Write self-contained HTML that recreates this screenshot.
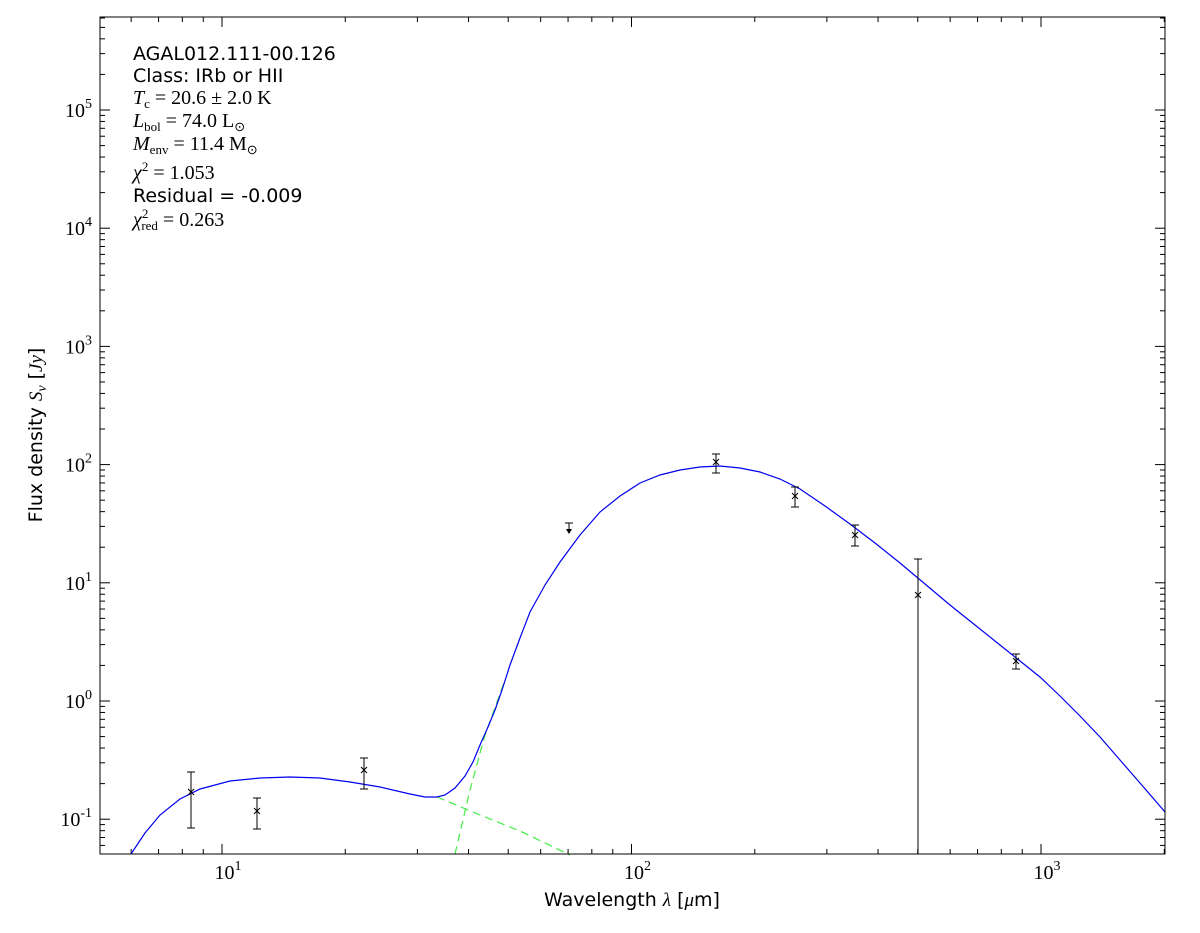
<!DOCTYPE html>
<html><head><meta charset="utf-8"><style>
body{margin:0;background:#fff;}
svg{display:block;font-family:"DejaVu Sans","Liberation Sans",sans-serif;}
.s{font-family:"Liberation Serif",serif;}
</style></head><body>
<svg id="c" width="1200" height="933" viewBox="0 0 1200 933" xmlns="http://www.w3.org/2000/svg">
<rect x="0" y="0" width="1200" height="933" fill="#fff"/>
<g id="ticks" stroke="#000" stroke-width="1"></g>
<polyline fill="none" stroke="#44ee44" stroke-width="1.2" stroke-dasharray="8,5" points="437,797 480,815 520,831 570,855"/>
<polyline fill="none" stroke="#44ee44" stroke-width="1.2" stroke-dasharray="8,5" points="455,854 470,790 485,735 505,680"/>
<polyline fill="none" stroke="#0000ee" stroke-width="1.2" points="131,854 145,833 160,815 180,799 200,789 230,781 260,778 290,777 320,778 350,782 380,787 410,794 425,797 437,797 445,795 455,788 465,776 473,762 480,745 488,727 495,710 502,690 510,665 520,638 530,612 545,585 560,562 580,535 600,512 620,496 640,483 660,475 680,470 700,467 720,466 740,468 760,472 780,479 800,489 825,506 850,524 875,543 900,563 925,584 950,605 975,625 1000,645 1020,661 1040,677 1060,696 1080,716 1100,737 1120,760 1140,783 1165,812"/>
<g stroke="#000" stroke-width="1" fill="none">
<path d="M191,772V828M187,772h8M187,828h8M188,789l6,6M194,789l-6,6"/>
<path d="M257,798V829M253,798h8M253,829h8M254,808l6,6M260,808l-6,6"/>
<path d="M364,758V789M360,758h8M360,789h8M361,767l6,6M367,767l-6,6"/>
<path d="M569,523V532M565,523h8"/>
<path d="M716,454V473M712,454h8M712,473h8M713,459l6,6M719,459l-6,6"/>
<path d="M795,487V507M791,487h8M791,507h8M792,493l6,6M798,493l-6,6"/>
<path d="M855,525V546M851,525h8M851,546h8M852,532l6,6M858,532l-6,6"/>
<path d="M918,559V854M914,559h8M915,592l6,6M921,592l-6,6"/>
<path d="M1016,654V669M1012,654h8M1012,669h8M1013,658l6,6M1019,658l-6,6"/>
</g>
<path d="M566,529l3,5l3,-5z" fill="#000"/>
<rect x="100" y="17" width="1065" height="837" fill="none" stroke="#000" stroke-width="1"/>
<g font-size="19" fill="#000">
<text x="133" y="60">AGAL012.111-00.126</text>
<text x="133" y="82">Class: IRb or HII</text>
<text x="133" y="104" class="s" font-size="20" font-style="italic">T<tspan font-size="13" font-style="normal" dy="4">c</tspan><tspan dy="-4" font-style="normal"> = 20.6 ± 2.0 K</tspan></text>
<text x="133" y="127" class="s" font-size="20" font-style="italic">L<tspan font-size="13" font-style="normal" dy="4">bol</tspan><tspan dy="-4" font-style="normal"> = 74.0 L</tspan><tspan font-size="13" font-style="normal" dy="4">⊙</tspan></text>
<text x="133" y="150" class="s" font-size="20" font-style="italic">M<tspan font-size="13" font-style="normal" dy="4">env</tspan><tspan dy="-4" font-style="normal"> = 11.4 M</tspan><tspan font-size="13" font-style="normal" dy="4">⊙</tspan></text>
<text x="133" y="179" class="s" font-size="20" font-style="italic">χ<tspan font-size="13" font-style="normal" dy="-8">2</tspan><tspan dy="8" font-style="normal"> = 1.053</tspan></text>
<text x="133" y="202">Residual = -0.009</text>
<text x="133" y="226" class="s" font-size="20" font-style="italic">χ<tspan font-size="13" font-style="normal" dy="-8">2</tspan><tspan font-size="13" font-style="normal" dx="-7" dy="12">red</tspan><tspan dy="-4" font-style="normal"> = 0.263</tspan></text>
</g>
<g font-size="19" text-anchor="middle">
<text x="632" y="906">Wavelength <tspan class="s" font-style="italic">λ</tspan> [<tspan class="s" font-style="italic">μ</tspan>m]</text>
<text transform="translate(42,435) rotate(-90)">Flux density <tspan class="s" font-style="italic">S<tspan font-size="14" dy="4">ν</tspan></tspan><tspan dy="-4"> [</tspan><tspan class="s" font-style="italic">Jy</tspan>]</text>
</g>
<g id="lbl" class="s" font-size="20"></g>
</svg>
<script>
var NS="http://www.w3.org/2000/svg",t=document.getElementById("ticks"),L=document.getElementById("lbl");
function ln(x1,y1,x2,y2){var e=document.createElementNS(NS,"line");e.setAttribute("x1",x1);e.setAttribute("y1",y1);e.setAttribute("x2",x2);e.setAttribute("y2",y2);t.appendChild(e);}
function tx(x,y,s,a,anc){var e=document.createElementNS(NS,"text");e.setAttribute("x",x);e.setAttribute("y",y);e.setAttribute("text-anchor",anc);e.innerHTML="10<tspan font-size='14' dy='-9'>"+s+"</tspan>";L.appendChild(e);}
function X(v){return 222+(Math.log10(v)-1)*409.5;}
function Y(v){return 701-Math.log10(v)*118.2;}
for(var d=0;d<=3;d++)for(var m=1;m<10;m++){var v=m*Math.pow(10,d);var x=X(v);if(x<100||x>1165)continue;var l=m==1?10:5;ln(x,854,x,854-l);ln(x,17,x,17+l);if(m==1)tx(x+6,879,d,0,"middle");}
for(var d=-2;d<=5;d++)for(var m=1;m<10;m++){var v=m*Math.pow(10,d);var y=Y(v);if(y<17||y>854)continue;var l=m==1?10:5;ln(100,y,100+l,y);ln(1165,y,1165-l,y);if(m==1)tx(92,y+7,d,0,"end");}
</script>
</body></html>
